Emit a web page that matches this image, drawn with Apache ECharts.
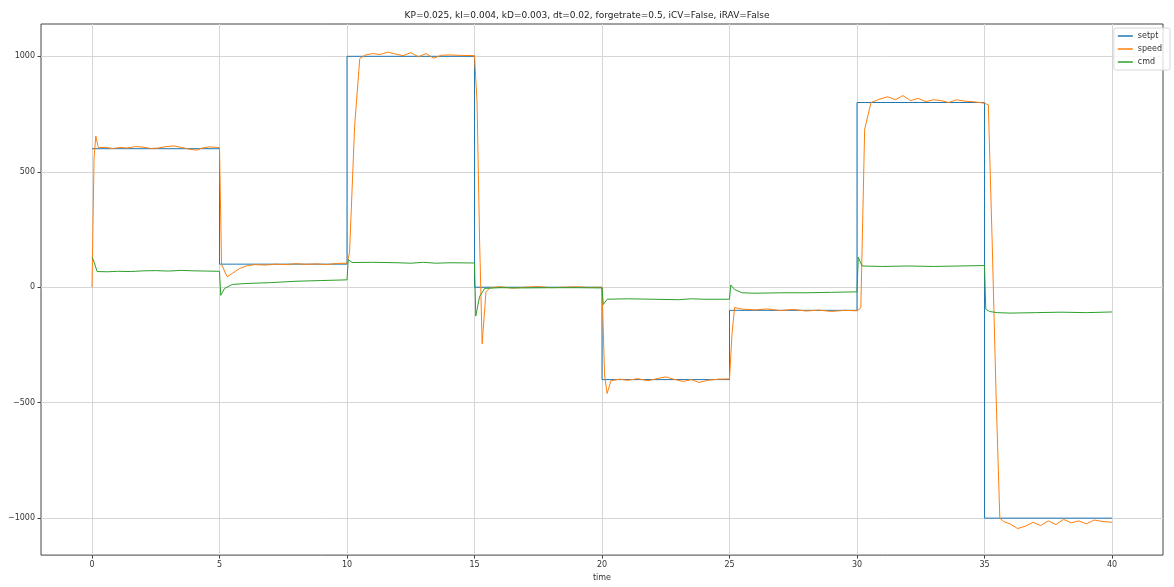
<!DOCTYPE html>
<html>
<head>
<meta charset="utf-8">
<script src="https://cdn.jsdelivr.net/npm/echarts@6/dist/echarts.min.js"></script>
<style>
html,body{margin:0;padding:0;background:#fff;}
#chart{width:1174px;height:587px;}
</style>
</head>
<body>
<div id="chart"></div>
<script>
var titleText = 'KP=0.025, kI=0.004, kD=0.003, dt=0.02, forgetrate=0.5, iCV=False, iRAV=False';
var seriesNames = ['setpt', 'speed', 'cmd'];
var xTicks = [0, 5, 10, 15, 20, 25, 30, 35, 40];
var yTicks = [-1000, -500, 0, 500, 1000];

var setptTime  = [0, 5, 5, 10, 10, 15, 15, 20, 20, 25, 25, 30, 30, 35, 35, 40];
var setptValue = [600, 600, 100, 100, 1000, 1000, 0, 0, -400, -400, -100, -100, 800, 800, -1000, -1000];

var speedTime = [0, 0.08, 0.15, 0.25, 0.5, 0.8, 1.1, 1.4, 1.7, 2.0, 2.3, 2.6, 2.9, 3.2, 3.5, 3.8, 4.1, 4.3, 4.6, 4.9, 5.0,
  5.08, 5.3, 5.5, 5.8, 6.1, 6.4, 6.8, 7.2, 7.6, 8.0, 8.4, 8.8, 9.2, 9.6, 10.0,
  10.1, 10.3, 10.5, 10.7, 11.0, 11.3, 11.6, 11.9, 12.2, 12.5, 12.8, 13.1, 13.4, 13.7, 14.0, 14.5, 15.0,
  15.1, 15.2, 15.3, 15.45, 15.6, 16.0, 16.5, 17.0, 17.5, 18.0, 18.5, 19.0, 19.5, 20.0,
  20.1, 20.2, 20.35, 20.7, 21.0, 21.4, 21.8, 22.2, 22.5, 22.8, 23.2, 23.5, 23.8, 24.2, 24.6, 25.0,
  25.1, 25.2, 25.5, 26.0, 26.5, 27.0, 27.5, 28.0, 28.5, 29.0, 29.5, 30.0,
  30.15, 30.3, 30.55, 30.9, 31.2, 31.5, 31.8, 32.1, 32.4, 32.7, 33.0, 33.3, 33.6, 33.9, 34.2, 34.6, 35.0,
  35.15, 35.3, 35.45, 35.6, 35.75, 36.0, 36.3, 36.6, 36.9, 37.2, 37.5, 37.8, 38.1, 38.4, 38.7, 39.0, 39.3, 39.6, 40.0];
var speedValue = [0, 560, 655, 604, 606, 601, 605, 603, 609, 607, 601, 603, 609, 612, 606, 598, 594, 602, 608, 606, 605,
  100, 45, 60, 82, 94, 98, 96, 100, 98, 102, 99, 101, 98, 103, 104,
  150, 700, 990, 1005, 1012, 1008, 1018, 1010, 1003, 1016, 998, 1012, 992, 1005, 1006, 1004, 1003,
  800, 200, -245, -20, -3, 2, -4, 0, 3, -2, 0, 2, -1, 0,
  -380, -460, -405, -398, -403, -396, -405, -395, -388, -398, -408, -400, -412, -402, -398, -397,
  -200, -88, -95, -98, -94, -101, -96, -103, -99, -105, -100, -102,
  -90, 684, 800, 815, 825, 812, 830, 808, 818, 804, 812, 808, 800, 812, 806, 803, 797,
  790, 200, -450, -1000, -1015, -1025, -1045, -1035, -1018, -1032, -1012, -1028, -1005, -1020, -1012, -1025, -1008, -1014, -1018];

var cmdTime = [0, 0.05, 0.2, 0.6, 1.0, 1.5, 2.0, 2.5, 3.0, 3.5, 4.0, 4.5, 5.0,
  5.05, 5.2, 5.5, 6, 7, 8, 9, 10,
  10.05, 10.2, 11, 12, 12.5, 13, 13.5, 14, 15,
  15.05, 15.2, 15.4, 16, 17, 18, 19, 20,
  20.05, 20.2, 21, 22, 23, 23.5, 24, 25,
  25.05, 25.2, 25.5, 26, 27, 28, 29, 30,
  30.05, 30.2, 31, 32, 33, 34, 35,
  35.05, 35.2, 35.5, 36, 37, 38, 39, 40];
var cmdValue = [130, 120, 68, 67, 69, 68, 71, 72, 70, 73, 71, 70, 69,
  -35, -5, 12, 16, 20, 26, 29, 32,
  120, 107, 108, 106, 104, 108, 104, 106, 105,
  -125, -40, -5, -2, -3, -2, -2, -3,
  -75, -52, -50, -52, -54, -50, -52, -52,
  10, -10, -24, -26, -24, -24, -22, -20,
  130, 92, 90, 92, 90, 92, 94,
  -95, -105, -110, -112, -110, -108, -110, -107];

function pairs(t, v) { return t.map(function (x, i) { return [x, v[i]]; }); }
function fmt(v) { return v < 0 ? '\u2212' + Math.abs(v) : String(v); }

var chart = echarts.init(document.getElementById('chart'), null, {renderer: 'canvas'});
var font = 'DejaVu Sans';
chart.setOption({
  animation: false,
  backgroundColor: '#fff',
  textStyle: {fontFamily: font},
  title: {
    text: titleText, left: 'center', top: 6,
    textStyle: {fontSize: 9, fontWeight: 'normal', color: '#222', fontFamily: font}
  },
  legend: {
    orient: 'vertical', right: 4, top: 28,
    data: seriesNames,
    icon: 'rect', itemWidth: 15, itemHeight: 1.5, itemGap: 5,
    textStyle: {fontSize: 8, color: '#333', fontFamily: font},
    borderColor: '#d8d8d8', borderWidth: 1, borderRadius: 2, padding: [4, 8, 4, 4],
    backgroundColor: 'rgba(255,255,255,0.8)'
  },
  grid: {left: 41, right: 11, top: 24, bottom: 24, show: true, borderColor: '#444', borderWidth: 1, containLabel: false},
  xAxis: {
    type: 'value', min: -2, max: 42,
    name: 'time', nameLocation: 'middle', nameGap: 17,
    nameTextStyle: {fontSize: 8, color: '#333', fontFamily: font},
    axisLine: {show: false, onZero: false},
    axisTick: {show: true, length: 3.5, customValues: xTicks, lineStyle: {color: '#444'}},
    axisLabel: {customValues: xTicks, fontSize: 8, color: '#333', margin: 6, fontFamily: font, formatter: fmt},
    splitLine: {show: true, lineStyle: {color: '#d6d6d6', width: 1}}
  },
  yAxis: {
    type: 'value', min: -1160, max: 1140,
    axisLine: {show: false, onZero: false},
    axisTick: {show: true, length: 3.5, customValues: yTicks, lineStyle: {color: '#444'}},
    axisLabel: {customValues: yTicks, fontSize: 8, color: '#333', margin: 6, fontFamily: font, formatter: fmt},
    splitLine: {show: true, lineStyle: {color: '#d6d6d6', width: 1}}
  },
  series: [
    {name: seriesNames[0], type: 'line', data: pairs(setptTime, setptValue), showSymbol: false, symbol: 'none',
      lineStyle: {width: 1, color: '#1f77b4'}, itemStyle: {color: '#1f77b4'}},
    {name: seriesNames[1], type: 'line', data: pairs(speedTime, speedValue), showSymbol: false, symbol: 'none',
      lineStyle: {width: 1, color: '#ff7f0e'}, itemStyle: {color: '#ff7f0e'}},
    {name: seriesNames[2], type: 'line', data: pairs(cmdTime, cmdValue), showSymbol: false, symbol: 'none',
      lineStyle: {width: 1, color: '#2ca02c'}, itemStyle: {color: '#2ca02c'}}
  ]
});
</script>
</body>
</html>
